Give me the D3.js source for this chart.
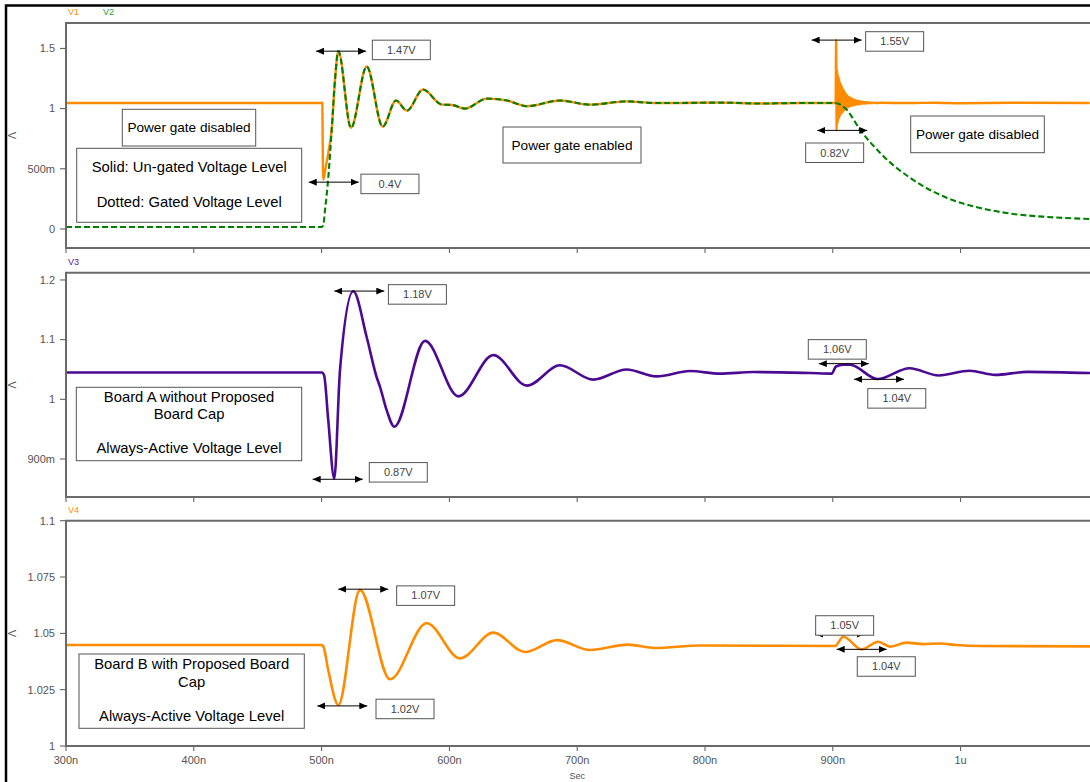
<!DOCTYPE html>
<html><head><meta charset="utf-8">
<script src="https://cdn.jsdelivr.net/npm/d3@7"></script>
<style>body{margin:0;background:#fff}svg{display:block;font-family:"Liberation Sans",Arial,sans-serif}</style>
</head><body><svg id="c" width="1090" height="782"></svg>
<script>
// ---------- data (time in ns, voltage in V) ----------
const timeTicks = [300,400,500,600,700,800,900,1000];
const timeTickLabels = ['300n','400n','500n','600n','700n','800n','900n','1u'];

const p1Ticks = [0,0.5,1,1.5], p1TickLabels = ['0','500m','1','1.5'];
const p2Ticks = [0.9,1,1.1,1.2], p2TickLabels = ['900m','1','1.1','1.2'];
const p3Ticks = [1,1.025,1.05,1.075,1.1], p3TickLabels = ['1','1.025','1.05','1.075','1.1'];

// V1: un-gated (solid orange)
const v1 = [[300,1.047],[500.6,1.047],[500.9,0.65],[501.3,0.41],[503.0,0.5],[505.5,0.65],[507.9,0.825],
 [510.5,1.24],[513.1,1.477],[523.0,0.84],[535.3,1.35],[547.8,0.85],[558.2,1.067],[566.8,0.983],[579.3,1.158],
 [594.2,1.033],[602.0,1.03],[612.2,1.0],[629.4,1.083],[645.1,1.067],[660.7,1.02],[686.5,1.067],[710.0,1.033],
 [739.0,1.06],[759.3,1.047],[780.4,1.047],[811.7,1.05],[843,1.042],[874,1.047],[902.2,1.047],
 [902.6,1.57],[903.0,0.82],[903.4,1.32],[903.8,0.88],[904.2,1.28],[904.6,0.91],[905.0,1.25],[905.4,0.93],
 [905.8,1.22],[906.2,0.95],[906.6,1.20],[907.0,0.96],[907.4,1.18],[907.8,0.97],[908.2,1.16],[908.6,0.98],
 [909.0,1.15],[909.4,0.99],[909.8,1.13],[910.2,1.0],[910.6,1.12],[911.0,1.005],[911.4,1.11],[911.8,1.01],
 [912.2,1.10],[912.6,1.015],[913.0,1.095],[913.4,1.02],[913.8,1.09],[914.2,1.022],[914.6,1.085],[915.0,1.025],
 [915.5,1.08],[916.0,1.028],[916.5,1.075],[917.0,1.03],[917.5,1.072],[918.0,1.032],[918.6,1.068],[919.2,1.034],
 [919.8,1.065],[920.4,1.036],[921.0,1.062],[921.7,1.038],[922.4,1.06],[923.1,1.04],[923.8,1.058],[924.6,1.041],
 [925.4,1.056],[926.2,1.042],[927.0,1.054],[928,1.044],[929,1.052],[930.5,1.045],[932,1.05],[934,1.046],
 [937,1.048],[960,1.046],[980,1.049],[1000,1.045],[1040,1.048],[1101,1.046]];

// V2: gated (dashed green)
const v2 = [[300,0.017],[500.3,0.017],[501.3,0.03],[502.7,0.158],[505.3,0.436],[507.9,0.825],[510.5,1.24],
 [513.1,1.477],[523.0,0.84],[535.3,1.35],[547.8,0.85],[558.2,1.067],[566.8,0.983],[579.3,1.158],[594.2,1.033],
 [602.0,1.03],[612.2,1.0],[629.4,1.083],[645.1,1.067],[660.7,1.02],[686.5,1.067],[710.0,1.033],[739.0,1.06],
 [759.3,1.047],[780.4,1.047],[811.7,1.05],[843,1.042],[874,1.047],[901.7,1.047],[910.9,0.99],[921.3,0.825],
 [936.9,0.633],[962.8,0.408],[989.4,0.258],[1015.2,0.175],[1041,0.125],[1067.6,0.1],[1101.3,0.083]];

// V3: Board A (purple)
const v3 = [[300,1.045],[500.3,1.045],[502,1.04],[505.2,0.965],[509.9,0.867],[514.4,1.049],[524.8,1.181],
 [535.3,1.104],[543.1,1.037],[545.7,1.021],[550.9,0.982],[556.9,0.954],[580.9,1.098],[607.0,1.005],
 [634.4,1.074],[660.7,1.023],[686.5,1.057],[712.6,1.033],[738.7,1.050],[762.2,1.0385],[788.3,1.0474],
 [811.7,1.043],[837.8,1.0457],[882.2,1.044],[899.1,1.043],[902.5,1.055],[908,1.058],[913.5,1.058],
 [935,1.034],[960,1.052],[983,1.040],[1007,1.048],[1027,1.041],[1052,1.046],[1101.3,1.044]];

// V4: Board B (orange)
const v4 = [[300,1.0448],[500.3,1.0448],[501.5,1.044],[505.2,1.0337],[513.1,1.0182],[530.0,1.0693],
 [553.5,1.0296],[582.2,1.0545],[608.3,1.0389],[634.4,1.0503],[659.2,1.0417],[684.2,1.047],[710,1.0426],
 [739.7,1.045],[760.9,1.0435],[796.1,1.0446],[901.7,1.0444],[908.2,1.0485],[922.6,1.0429],[935.6,1.0463],
 [944.8,1.0441],[957.8,1.0459],[970.8,1.0452],[983.9,1.0455],[997,1.0448],[1015.2,1.0444],[1101.3,1.0442]];

// value callouts: [label, t, v]
const p1Callouts = [['1.47V',515.2,1.477],['0.4V',509.5,0.389],['1.55V',903,1.569],['0.82V',907.4,0.819]];
const p2Callouts = [['1.18V',529.5,1.1814],['0.87V',512.6,0.866],['1.06V',908.6,1.0598],['1.04V',936.2,1.0335]];
const p3Callouts = [['1.07V',532.6,1.0696],['1.02V',516.2,1.0178],['1.05V',905.6,1.0497],['1.04V',922.6,1.0429]];

// note texts
const p1Notes = [['Power gate disabled'],['Solid: Un-gated Voltage Level','Dotted: Gated Voltage Level'],['Power gate enabled'],['Power gate disabled']];
const p2Notes = [['Board A without Proposed','Board Cap','','Always-Active Voltage Level']];
const p3Notes = [['Board B with Proposed Board','Cap','','Always-Active Voltage Level']];

// ---------- layout / style ----------
const svg = d3.select('#c');
const W = 1090;
const x = d3.scaleLinear().domain([300,1100]).range([66,1088.4]);

const panels = [
 {top:23, bottom:248, domain:[-0.158,1.711], ticks:p1Ticks, labels:p1TickLabels,
  series:[{d:v1,color:'#ff8c00',w:2.4},{d:v2,color:'#008000',w:2.1,dash:'6,3'}],
  names:[['V1','#ff8c00',68],['V2','#2a9a2a',103]], callouts:p1Callouts,
  calloutBox:[[31.3,-11],[27.2,-8],[29,-8.4],[-36.6,12.6]],
  notes:p1Notes, noteBoxes:[[122.3,109.3,133.4,36.7,[127.7],13.6],[76.7,148.3,225,74,[166.7,201.7],14.8],[503,127,138,36,[145],13.6],[910.7,116,133.6,36.7,[134.3],13.6]]},
 {top:272.7, bottom:497, domain:[0.8363,1.2122], ticks:p2Ticks, labels:p2TickLabels,
  series:[{d:v3,color:'#4b0a91',w:2.6}], names:[['V3','#5a1aa0',68]], callouts:p2Callouts,
  calloutBox:[[29.1,-6.4],[31.6,-16.7],[-35.5,-24],[-11.3,9.3]],
  notes:p2Notes, noteBoxes:[[76.3,387.3,225.4,73.4,[396.7,414,431,448.3],14.8]]},
 {top:520.7, bottom:746, domain:[1,1.1], ticks:p3Ticks, labels:p3TickLabels,
  series:[{d:v4,color:'#ff8c00',w:2.6}], names:[['V4','#ff8c00',68]], callouts:p3Callouts,
  calloutBox:[[33.4,-3.3],[33.7,-6.7],[-24.3,-18.3],[-4.4,7.4]],
  notes:p3Notes, noteBoxes:[[79,654,225.3,74.3,[664,681.7,699,716],14.8]]}
];

const defs = svg.append('defs');
defs.append('marker').attr('id','ah').attr('markerUnits','userSpaceOnUse')
 .attr('markerWidth',9).attr('markerHeight',7).attr('refX',8).attr('refY',3.5)
 .attr('orient','auto-start-reverse')
 .append('path').attr('d','M0,0 L8,3.5 L0,7 Z').attr('fill','#000');

// outer frame
svg.append('rect').attr('x',6).attr('y',5.5).attr('width',1200).attr('height',900)
 .attr('fill','none').attr('stroke','#000').attr('stroke-width',2.5);

panels.forEach((p,i)=>{
  const y = d3.scaleLinear().domain(p.domain).range([p.bottom,p.top]);
  const g = svg.append('g');
  defs.append('clipPath').attr('id','clip'+i).append('rect')
    .attr('x',66).attr('y',p.top).attr('width',1100).attr('height',p.bottom-p.top);

  // y axis ticks
  p.ticks.forEach((t,k)=>{
    g.append('line').attr('x1',60).attr('x2',66).attr('y1',y(t)).attr('y2',y(t)).attr('stroke','#555').attr('stroke-width',1);
    g.append('text').attr('x',55).attr('y',y(t)).attr('dy','0.35em').attr('text-anchor','end')
     .attr('font-size',11).attr('fill','#555').text(p.labels[k]);
  });
  // x ticks under panel
  timeTicks.forEach(t=>{
    g.append('line').attr('x1',x(t)).attr('x2',x(t)).attr('y1',p.bottom).attr('y2',p.bottom+5).attr('stroke','#555').attr('stroke-width',1);
  });
  // axis unit label (rotated V)
  const my = (p.top+p.bottom)/2;
  g.append('text').attr('transform',`translate(12,${my}) rotate(90)`).attr('text-anchor','middle')
   .attr('dy','0.35em').attr('font-size',11).attr('fill','#555').text('V');
  // series names
  p.names.forEach(n=>{
    g.append('text').attr('x',n[2]).attr('y',p.top-8).attr('font-size',9).attr('fill',n[1]).text(n[0]);
  });

  // notes
  p.noteBoxes.forEach((b,k)=>{
    g.append('rect').attr('x',b[0]).attr('y',b[1]).attr('width',b[2]).attr('height',b[3])
     .attr('fill','#fff').attr('stroke','#555').attr('stroke-width',1);
    p.notes[k].forEach((line,j)=>{
      if(!line) return;
      g.append('text').attr('x',b[0]+b[2]/2).attr('y',b[4][j]).attr('dy','0.35em').attr('text-anchor','middle')
       .attr('font-size',b[5]).attr('fill','#000').text(line);
    });
  });

  // series lines
  const lg = g.append('g').attr('clip-path',`url(#clip${i})`);
  p.series.forEach(s=>{
    const line = d3.line().x(d=>x(d[0])).y(d=>y(d[1])).curve(d3.curveMonotoneX);
    lg.append('path').datum(s.d).attr('d',line).attr('fill','none').attr('stroke',s.color)
      .attr('stroke-width',s.w).attr('stroke-dasharray',s.dash||null).attr('stroke-linejoin','round');
  });

  // frame
  g.append('path').attr('d',`M${W+20},${p.top}H66V${p.bottom}H${W+20}`).attr('fill','none')
   .attr('stroke','#6a6a6a').attr('stroke-width',2);

  // callouts
  p.callouts.forEach((c,k)=>{
    const cx = x(c[1]), cy = y(c[2]);
    g.append('line').attr('x1',cx-25).attr('x2',cx+25).attr('y1',cy).attr('y2',cy)
     .attr('stroke','#000').attr('stroke-width',1).attr('marker-start','url(#ah)').attr('marker-end','url(#ah)');
    const bx = cx+p.calloutBox[k][0], by = cy+p.calloutBox[k][1];
    g.append('rect').attr('x',bx).attr('y',by).attr('width',58).attr('height',19.5)
     .attr('fill','#fff').attr('stroke','#555').attr('stroke-width',1);
    g.append('text').attr('x',bx+29).attr('y',by+9.75).attr('dy','0.35em').attr('text-anchor','middle')
     .attr('font-size',11).attr('fill','#444').text(c[0]);
  });
});

// bottom time axis labels
timeTicks.forEach((t,k)=>{
  svg.append('text').attr('x',x(t)).attr('y',760).attr('dy','0.35em').attr('text-anchor','middle')
   .attr('font-size',11).attr('fill','#555').text(timeTickLabels[k]);
});
svg.append('text').attr('x',x(700)).attr('y',776).attr('dy','0.35em').attr('text-anchor','middle')
 .attr('font-size',9).attr('fill','#555').text('Sec');
</script></body></html>
